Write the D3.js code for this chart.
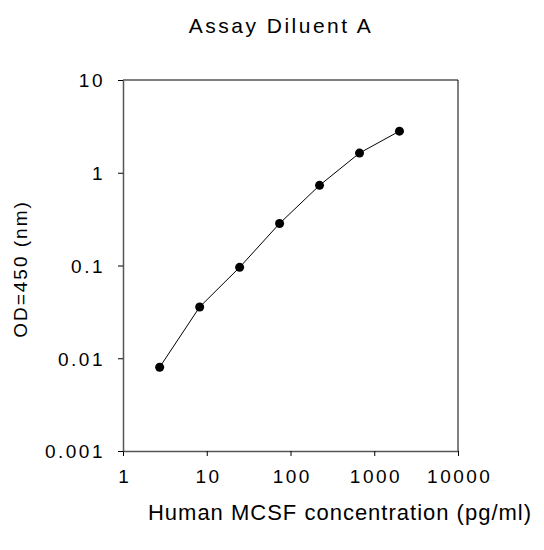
<!DOCTYPE html>
<html>
<head>
<meta charset="utf-8">
<script src="https://cdn.jsdelivr.net/npm/d3@7"></script>
<style>
  html, body { margin: 0; padding: 0; background: #fff; }
  text { font-family: "Liberation Sans", Arial, sans-serif; fill: #000; }
</style>
</head>
<body>
<svg id="chart" width="544" height="550"></svg>
<script>
const concentrations = [2.74, 8.23, 24.69, 74.07, 222.2, 666.7, 2000];
const odValues = [0.0080, 0.0357, 0.0955, 0.284, 0.731, 1.63, 2.81];
const xTicks = [1, 10, 100, 1000, 10000];
const yTicks = [0.001, 0.01, 0.1, 1, 10];
const xTickLabels = ["1", "10", "100", "1000", "10000"];
const yTickLabels = ["0.001", "0.01", "0.1", "1", "10"];
const title = "Assay Diluent A";
const xTitle = "Human MCSF concentration (pg/ml)";
const yTitle = "OD=450 (nm)";

(function () {
const svg = d3.select("#chart");
const mLeft = 123, mRight = 458, mTop = 80, mBottom = 451;

const x = d3.scaleLog().domain([1, 10000]).range([mLeft, mRight]);
const y = d3.scaleLog().domain([0.001, 10]).range([mBottom, mTop]);

svg.append("line").attr("x1", mLeft).attr("x2", mRight).attr("y1", mTop).attr("y2", mTop)
  .attr("stroke", "#000").attr("stroke-width", 1);
svg.append("line").attr("x1", mRight).attr("x2", mRight).attr("y1", mTop).attr("y2", mBottom)
  .attr("stroke", "#000").attr("stroke-width", 1);

const xAxis = d3.axisBottom(x).tickValues(xTicks)
  .tickFormat((d, i) => xTickLabels[i]).tickSizeOuter(0).tickSizeInner(5).tickPadding(12);
const yAxis = d3.axisLeft(y).tickValues(yTicks)
  .tickFormat((d, i) => yTickLabels[i]).tickSizeOuter(0).tickSizeInner(5).tickPadding(13);

const gx = svg.append("g").attr("transform", `translate(0,${mBottom})`).call(xAxis);
const gy = svg.append("g").attr("transform", `translate(${mLeft},0)`).call(yAxis);

[gx, gy].forEach(g => {
  g.select(".domain").attr("stroke", "#555").attr("stroke-width", 1.5);
  g.selectAll(".tick line").attr("stroke", "#000").attr("stroke-width", 1);
  g.selectAll(".tick text").attr("font-size", 19).attr("letter-spacing", "2.5px")
    .attr("font-family", "Liberation Sans, Arial, sans-serif").attr("fill", "#000");
});
gx.selectAll(".tick text").attr("dy", "0.8em").attr("dx", "1.25px");
gy.selectAll(".tick text").attr("dy", "0.36em");

const line = d3.line().x((d, i) => x(concentrations[i])).y(d => y(d));
svg.append("path").datum(odValues).attr("d", line)
  .attr("fill", "none").attr("stroke", "#000").attr("stroke-width", 1);

svg.selectAll("circle.pt").data(odValues).enter().append("circle")
  .attr("class", "pt")
  .attr("cx", (d, i) => x(concentrations[i])).attr("cy", d => y(d))
  .attr("r", 4.5).attr("fill", "#000");

svg.append("text").attr("x", 281).attr("y", 33).attr("text-anchor", "middle")
  .attr("font-size", 21).attr("letter-spacing", "2.5px").text(title);
svg.append("text").attr("x", 340).attr("y", 520).attr("text-anchor", "middle")
  .attr("font-size", 22).attr("letter-spacing", "1px").text(xTitle);
svg.append("text").attr("transform", "translate(27,269) rotate(-90)").attr("text-anchor", "middle")
  .attr("font-size", 19).attr("letter-spacing", "2px").text(yTitle);
})();
</script>
</body>
</html>
